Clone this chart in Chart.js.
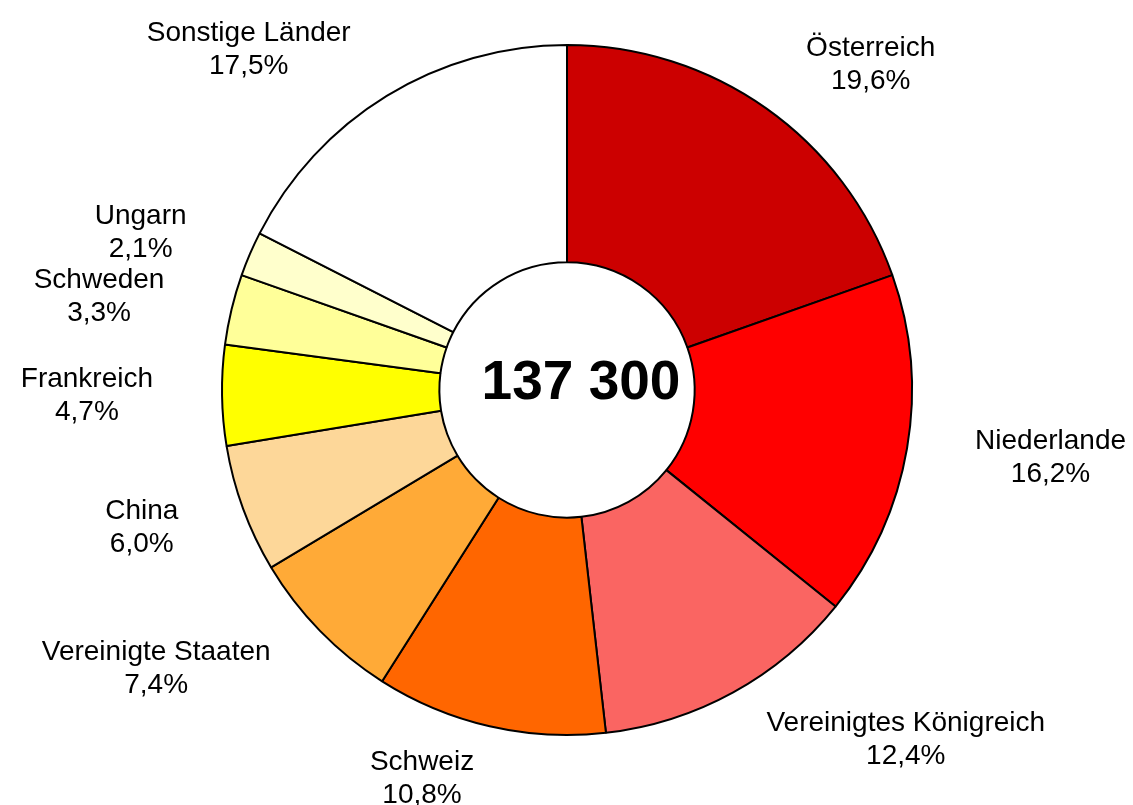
<!DOCTYPE html>
<html>
<head>
<meta charset="utf-8">
<script src="https://cdn.jsdelivr.net/npm/chart.js@4"></script>
<style>
  html, body { margin: 0; padding: 0; background: #fff; }
  #wrap { width: 1133px; height: 805px; }
</style>
</head>
<body>
<div id="wrap"><canvas id="chart" width="1133" height="805"></canvas></div>
<script>
const countries = ["Österreich", "Niederlande", "Vereinigtes Königreich", "Schweiz", "Vereinigte Staaten",
                   "China", "Frankreich", "Schweden", "Ungarn", "Sonstige Länder"];
const shares = [19.6, 16.2, 12.4, 10.8, 7.4, 6.0, 4.7, 3.3, 2.1, 17.5];
const sliceColors = ["#CC0000", "#FF0000", "#FA6562", "#FF6600", "#FFAA37",
                     "#FDD799", "#FFFF00", "#FFFF99", "#FFFFCC", "#FFFFFF"];
const totalLabel = "137 300";

const fmt = (v) => v.toFixed(1).replace(".", ",") + "%";

const labelFont = "28px 'Liberation Sans', Arial, sans-serif";

// labels sit outside the ring, inner corner of the text box on an ellipse round the pie
const outsideLabels = {
    id: "outsideLabels",
    afterDatasetsDraw(chart) {
        const ctx = chart.ctx;
        const meta = chart.getDatasetMeta(0);
        ctx.save();
        ctx.font = labelFont;
        ctx.fillStyle = "#000";
        ctx.textAlign = "center";
        ctx.textBaseline = "middle";
        const lineH = 33;
        meta.data.forEach((arc, i) => {
            const { x, y, startAngle, endAngle, outerRadius } = arc.getProps(["x", "y", "startAngle", "endAngle", "outerRadius"], true);
            const mid = (startAngle + endAngle) / 2;
            const dx = Math.cos(mid), dy = Math.sin(mid);
            const lines = [countries[i], fmt(shares[i])];
            const w = Math.max(...lines.map((l) => ctx.measureText(l).width));
            const cx = x + outerRadius * 1.2 * dx + (w / 2) * Math.sign(dx);
            const cy = y + outerRadius * 1.06 * dy + lineH * dy;
            ctx.fillText(lines[0], cx, cy - lineH / 2);
            ctx.fillText(lines[1], cx, cy + lineH / 2);
        });
        // total in the hole
        const first = meta.data[0];
        ctx.font = "bold 55px 'Liberation Sans', Arial, sans-serif";
        ctx.fillText(totalLabel, first.x + 14, first.y - 6);
        ctx.restore();
    }
};

new Chart(document.getElementById("chart").getContext("2d"), {
    type: "doughnut",
    data: {
        labels: countries,
        datasets: [{
            data: shares,
            backgroundColor: sliceColors,
            borderColor: "#000",
            borderWidth: 2
        }]
    },
    options: {
        responsive: false,
        animation: false,
        cutout: "37%",
        layout: { padding: { left: 221, right: 220, top: 44, bottom: 69 } },
        plugins: {
            legend: { display: false },
            tooltip: { enabled: false }
        }
    },
    plugins: [outsideLabels]
});
</script>
</body>
</html>
